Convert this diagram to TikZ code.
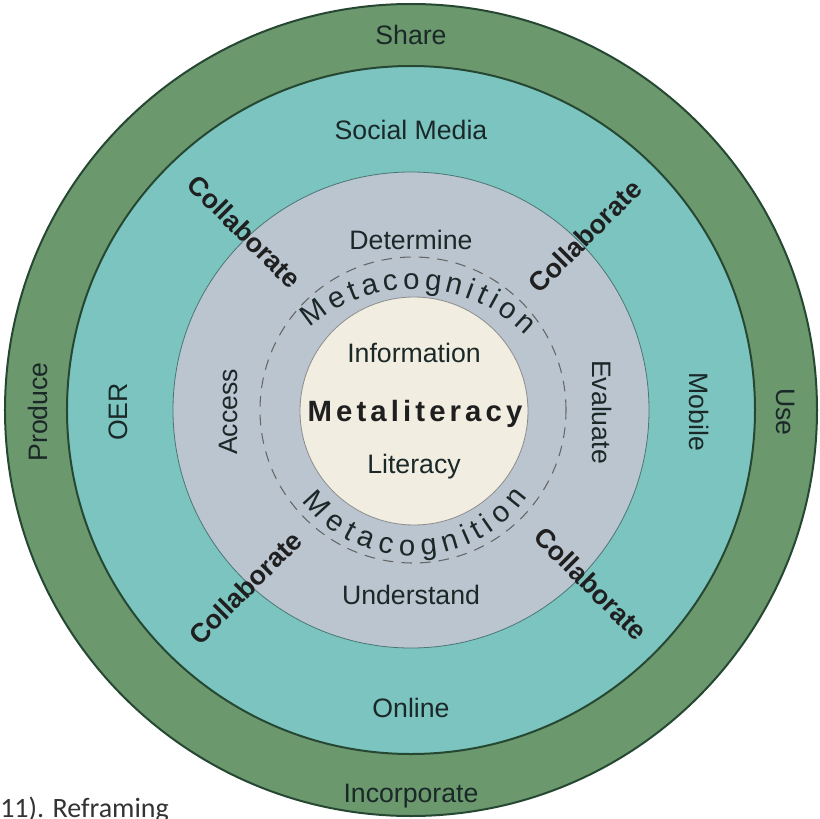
\documentclass[tikz,border=0pt]{standalone}
\usepackage{fontspec}
\setmainfont{Liberation Sans}
\newfontfamily\capfont{Carlito}
\newfontfamily\widefont[LetterSpace=14]{Liberation Sans}

\definecolor{ringgreen}{RGB}{108,152,110}
\definecolor{ringteal}{RGB}{124,196,192}
\definecolor{ringgrey}{RGB}{186,197,208}
\definecolor{corecream}{RGB}{241,237,225}
\definecolor{edgegreen}{RGB}{38,72,50}
\definecolor{textdark}{RGB}{26,40,40}

\begin{document}
\begin{tikzpicture}[x=0.75pt,y=0.75pt,
  ringlabel/.style={font=\fontsize{20}{23}\selectfont,text=textdark,inner sep=0pt},
  collab/.style={font=\bfseries\fontsize{20}{24}\selectfont,text=black!88,inner sep=0pt},
  arcletter/.style={font=\fontsize{22}{24}\selectfont,text=textdark,inner sep=0pt,anchor=base}]
\fill[white] (-411,-408) rectangle (409,410);
\useasboundingbox (-411,-408) rectangle (409,410);

%% rings
\draw[edgegreen,line width=1.5pt,fill=ringgreen] (0,0) circle (406);
\draw[edgegreen,line width=1.5pt,fill=ringteal] (0,0) circle (344);
\draw[ringteal!60!black,line width=0.6pt,fill=ringgrey] (0,0) circle (238);
\draw[black!60,line width=0.8pt,dash pattern=on 8pt off 6pt] (2,0) circle (153);
\draw[black!45,line width=0.6pt,fill=corecream] (3,-1) circle (114);

%% top and bottom labels
\node[ringlabel] (share) at (0,375) {Share};
\node[ringlabel] (social) at (0,280) {Social Media};
\node[ringlabel] (determine) at (0,170) {Determine};
\node[ringlabel] (information) at (3,57) {Information};
\node[font=\widefont\bfseries\fontsize{22}{25}\selectfont,text=black!88,inner sep=0pt] (meta) at (4,-4) {Metaliteracy};
\node[ringlabel] (literacy) at (3,-57) {Literacy};
\node[ringlabel] (understand) at (0,-185) {Understand};
\node[ringlabel] (online) at (0,-298) {Online};
\node[ringlabel] (incorporate) at (0,-386) {Incorporate};

%% side labels
\foreach \name/\word/\xpos in {produce/Produce/-373,oer/OER/-293,access/Access/-183}
  \node[ringlabel,rotate=90] (\name) at (\xpos,-2) {\word};
\foreach \name/\word/\xpos in {evaluate/Evaluate/191,mobile/Mobile/288,use/Use/375}
  \node[ringlabel,rotate=-90] (\name) at (\xpos,-2) {\word};

%% collaborate on the diagonals
\foreach \name/\ang/\rad/\rot in {collabnw/133/244/-45,collabne/45/246/45,collabsw/227/243/45,collabse/-44/250/-45}
  \node[collab,rotate=\rot] (\name) at (\ang:\rad) {Collaborate};

%% metacognition, letter by letter
\foreach \ch/\ang [count=\i] in {M/126.6,e/117.6,t/111.5,a/105.4,c/98.2,o/90.9,g/83.3,n/75.8,i/70.0,t/65.6,i/61.3,o/55.5,n/47.9}
  \node[arcletter,rotate=\ang-90] (metatop\i) at ([shift={(\ang:158)}]3,-37) {\ch};
\foreach \ch/\ang [count=\i] in {M/-137.5,e/-126.2,t/-118.5,a/-110.9,c/-101.8,o/-92.6,g/-83.1,n/-73.7,i/-66.4,t/-60.9,i/-55.4,o/-48.2,n/-38.7}
  \node[arcletter,rotate=\ang+90] (metabot\i) at ([shift={(\ang:140)}]2,-6) {\ch};

%% caption
\node[anchor=base west,font=\capfont\fontsize{21}{24}\selectfont,text=black!80,inner sep=0pt] (caption) at (-411,-407) {11). Reframing};
\end{tikzpicture}
\end{document}
